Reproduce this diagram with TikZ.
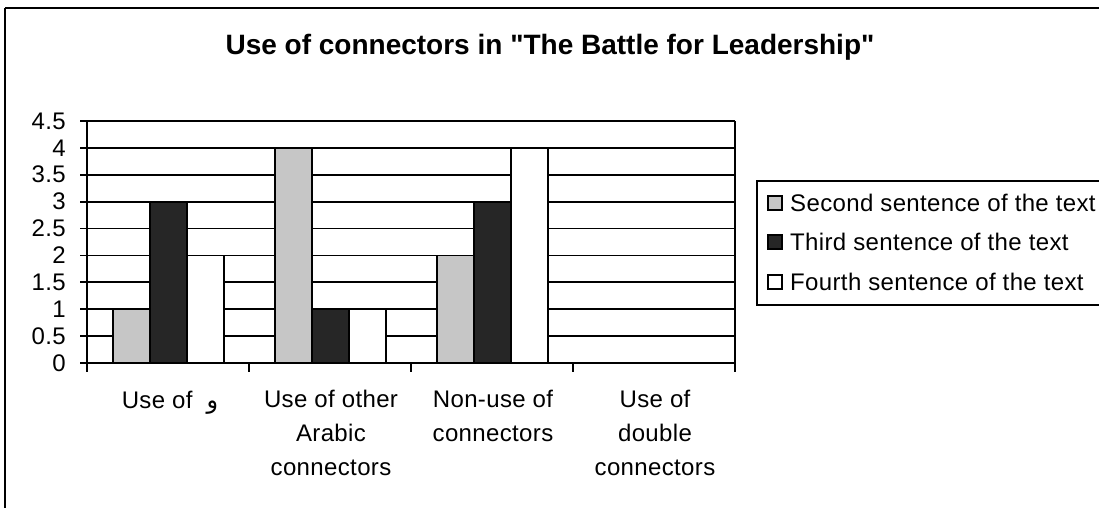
\documentclass[tikz,border=0pt]{standalone}
\usepackage{fontspec}
\setmainfont{Liberation Sans}[Ligatures=TeXOff]
\newfontfamily\arabicfont[Script=Arabic]{DejaVu Sans}
\TeXXeTstate=1

% value -> vertical position of the plot area
\newcommand{\yv}[1]{363-53.8*#1}

\begin{document}
\begin{tikzpicture}[x=1pt,y=-1pt,
  outerline/.style={line width=1.5pt},
  gridline/.style={line width=1.8pt},
  thinline/.style={line width=1.4pt},
  barbox/.style={draw=black,line width=1.8pt},
  sersecond/.style={barbox,fill=gray!45},
  serthird/.style={barbox,fill=black!85},
  serfourth/.style={barbox,fill=white},
  lbl/.style={inner sep=0pt,font=\fontsize{24}{34}\selectfont\addfontfeature{LetterSpace=1.5}},
  titlelbl/.style={inner sep=0pt,font=\fontsize{28}{30}\selectfont\bfseries}]

\useasboundingbox (0,0) rectangle (1099,508);

% outer chart frame (top and left edges)
\draw[outerline] (5,8) -- (1105,8);
\draw[outerline] (5,8) -- (5,512);

% title
\node[titlelbl] (title) at (550,47) {Use of connectors in "The Battle for Leadership"};

% horizontal grid lines
\foreach \v in {0.5,1,...,4.5}
  \draw[gridline] (87,{\yv{\v}}) -- (735,{\yv{\v}});

% right border of plot area
\draw[thinline] (735,{\yv{4.5}}) -- (735,363);

% y axis with ticks
\draw[gridline] (87,{\yv{4.5}}) -- (87,370);
\foreach \v in {0,0.5,...,4.5}
  \draw[gridline] (80,{\yv{\v}}) -- (87,{\yv{\v}});

% x axis with category ticks
\draw[gridline] (80,363) -- (735,363);
\foreach \x in {87,249,411,573,735}
  \draw[gridline] (\x,363) -- (\x,372);

% y labels
\foreach \v/\t [count=\i] in {0/0,0.5/0.5,1/1,1.5/1.5,2/2,2.5/2.5,3/3,3.5/3.5,4/4,4.5/4.5}
  \node[lbl,anchor=east] (ylab\i) at (66,{\yv{\v}}) {\t};

% bars: group 1
\draw[sersecond] (113,363) rectangle (150,{\yv{1}});
\draw[serthird]  (150,363) rectangle (187,{\yv{3}});
\draw[serfourth] (187,363) rectangle (224,{\yv{2}});
% bars: group 2
\draw[sersecond] (275,363) rectangle (312,{\yv{4}});
\draw[serthird]  (312,363) rectangle (349,{\yv{1}});
\draw[serfourth] (349,363) rectangle (386,{\yv{1}});
% bars: group 3
\draw[sersecond] (437,363) rectangle (474,{\yv{2}});
\draw[serthird]  (474,363) rectangle (511,{\yv{3}});
\draw[serfourth] (511,363) rectangle (548,{\yv{4}});

% category labels
\node[lbl,anchor=base] (cat1) at (170,408) {Use of\ \ {\arabicfont\beginR و\endR}};
\node[lbl,anchor=north,align=center] (cat2) at (331,390) {Use of other\\Arabic\\connectors};
\node[lbl,anchor=north,align=center] (cat3) at (493,390) {Non-use of\\connectors};
\node[lbl,anchor=north,align=center] (cat4) at (655,390) {Use of\\double\\connectors};

% legend
\draw[thinline] (757,181) rectangle (1110,305);
\draw[barbox,line width=1.2pt,fill=gray!45]  (768,196) rectangle (782,210);
\draw[barbox,line width=1.2pt,fill=black!85] (768,235) rectangle (782,249);
\draw[barbox,line width=1.2pt,fill=white]    (768,275) rectangle (782,289);
\node[lbl,anchor=west] (leg1) at (790,203) {Second sentence of the text};
\node[lbl,anchor=west] (leg2) at (790,242) {Third sentence of the text};
\node[lbl,anchor=west] (leg3) at (790,282) {Fourth sentence of the text};
\end{tikzpicture}
\end{document}
